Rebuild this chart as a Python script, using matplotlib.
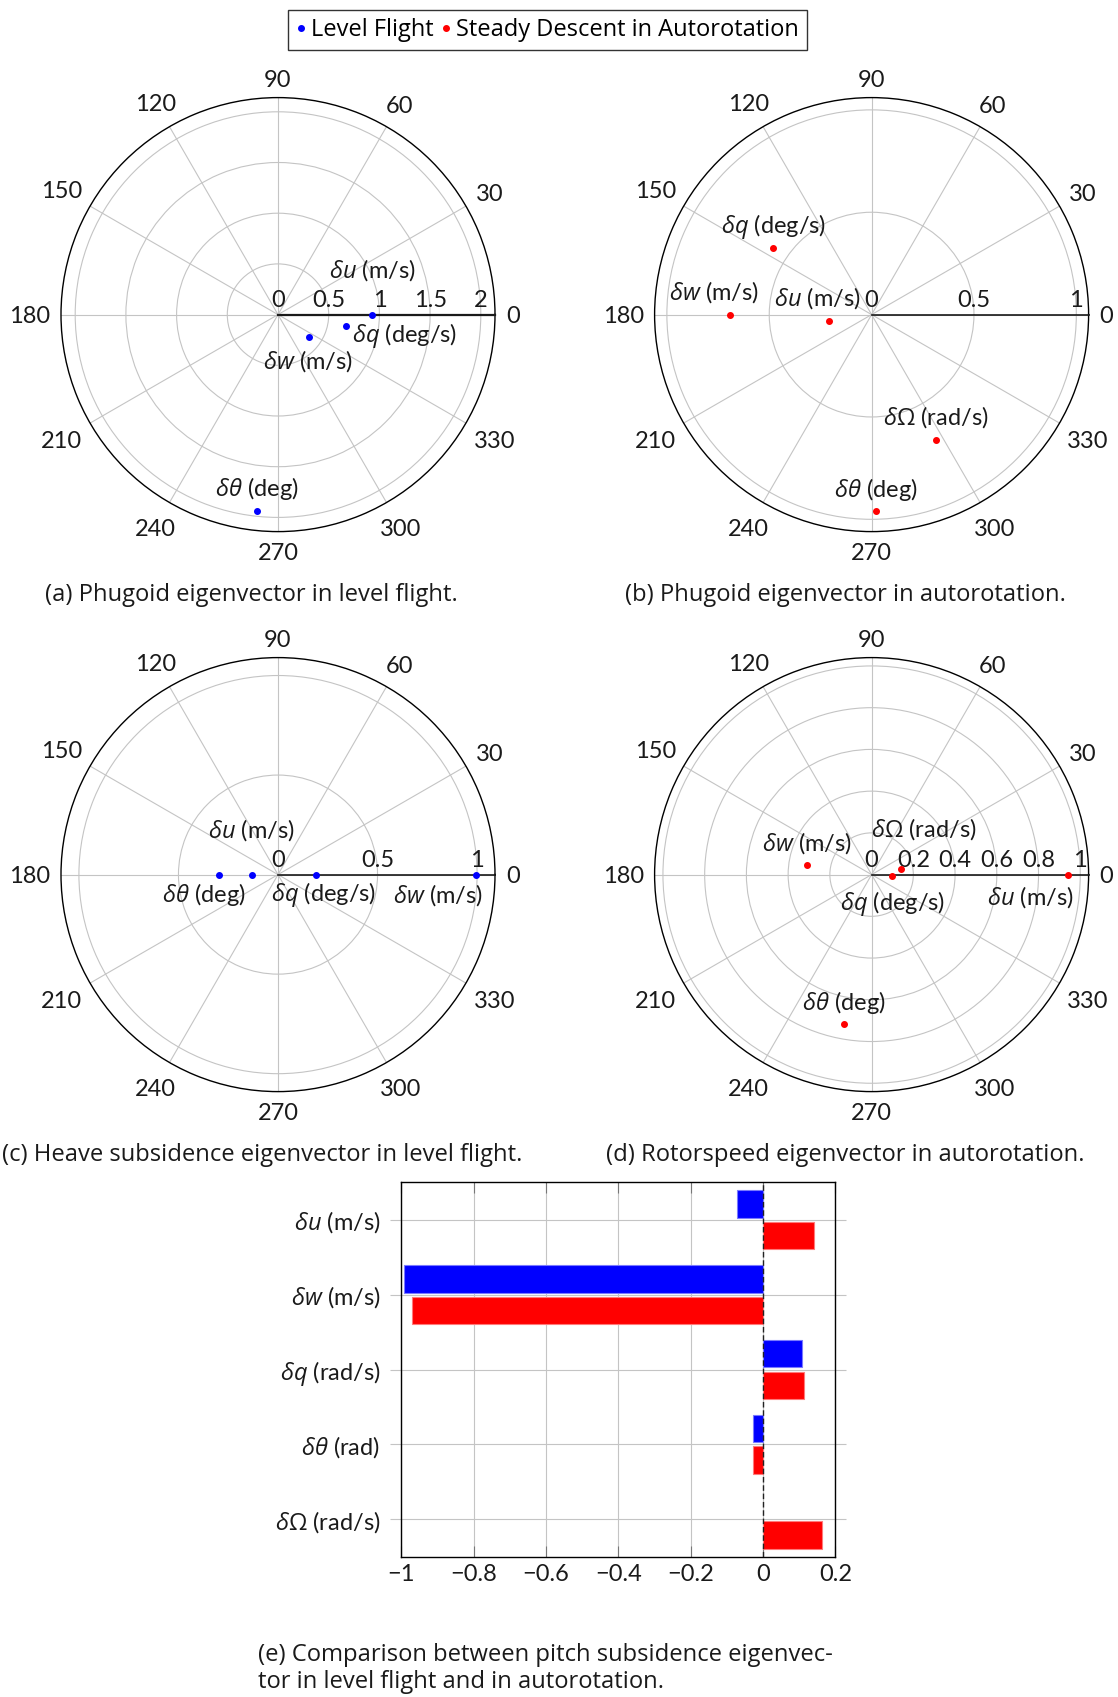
import numpy as np
import matplotlib
matplotlib.use('Agg')
import matplotlib.pyplot as plt
from matplotlib.lines import Line2D

plt.rcParams['font.family'] = ['Lato', 'DejaVu Sans']
plt.rcParams['mathtext.fontset'] = 'custom'
plt.rcParams['mathtext.it'] = 'Open Sans:italic'
plt.rcParams['mathtext.rm'] = 'Open Sans'

# --- data ---
# (a) phugoid eigenvector, level flight
a_names = [r'$\delta u$ (m/s)', r'$\delta q$ (deg/s)', r'$\delta w$ (m/s)', r'$\delta\theta$ (deg)']
a_mag = [0.93, 0.678, 0.378, 1.944]
a_phase = [0.0, 350.4, 324.1, 263.9]

# (b) phugoid eigenvector, autorotation
b_names = [r'$\delta w$ (m/s)', r'$\delta u$ (m/s)', r'$\delta q$ (deg/s)', r'$\delta\Omega$ (rad/s)', r'$\delta\theta$ (deg)']
b_mag = [0.694, 0.211, 0.579, 0.686, 0.960]
b_phase = [180.0, 188.1, 146.0, 297.1, 271.3]

# (c) heave subsidence eigenvector, level flight
c_names = [r'$\delta w$ (m/s)', r'$\delta q$ (deg/s)', r'$\delta u$ (m/s)', r'$\delta\theta$ (deg)']
c_mag = [0.993, 0.191, 0.133, 0.297]
c_phase = [0.0, 0.0, 180.0, 180.0]

# (d) rotorspeed eigenvector, autorotation
d_names = [r'$\delta u$ (m/s)', r'$\delta q$ (deg/s)', r'$\delta\Omega$ (rad/s)', r'$\delta w$ (m/s)', r'$\delta\theta$ (deg)']
d_mag = [0.942, 0.099, 0.143, 0.311, 0.730]
d_phase = [0.0, 357.0, 10.2, 171.8, 259.5]

# (e) pitch subsidence eigenvector comparison
bar_names = [r'$\delta u$ (m/s)', r'$\delta w$ (m/s)', r'$\delta q$ (rad/s)', r'$\delta\theta$ (rad)', r'$\delta\Omega$ (rad/s)']
bar_level = [-0.071, -0.993, 0.109, -0.028, np.nan]
bar_auto = [0.142, -0.971, 0.114, -0.028, 0.163]
bar_xticks = [-1, -0.8, -0.6, -0.4, -0.2, 0, 0.2]

# label offsets (pixels) for the point annotations
a_off = [(0, 44.6, 'center'), (6, -9, 'left'), (-1, -23.6, 'center'), (0, 22.1, 'center')]
b_off = [(-15.7, 22.5, 'center'), (-11.8, 22.5, 'center'), (0, 22.1, 'center'), (0, 22.1, 'center'), (0, 21.4, 'center')]
c_off = [(-37.5, -20.4, 'center'), (7.1, -20.4, 'center'), (0, 44.6, 'center'), (-15.4, -20.4, 'center')]
d_off = [(-37.9, -22.1, 'center'), (0, -27.5, 'center'), (22.9, 40.4, 'center'), (0, 22.1, 'center'), (0, 21.4, 'center')]

GRID = '#c4c4c4'
TXT = '#1a1a1a'
LBL = 17
TICK = 17
W, H = 1118, 1697
R_PX = 217

fig = plt.figure(figsize=(W / 100, H / 100), dpi=100)


def px_axes(cx, cy, r):
    return [(cx - r) / W, 1 - (cy + r) / H, 2 * r / W, 2 * r / H]


def polar_panel(cx, cy, names, mags, phases, color, rticks, rlabels, rmax, offsets, axis_lw):
    ax = fig.add_axes(px_axes(cx, cy, R_PX), projection='polar')
    ax.set_rlim(0, rmax)
    ax.set_rticks(rticks)
    ax.set_yticklabels([])
    thetas = np.arange(0, 360, 30)
    ax.set_xticks(np.deg2rad(thetas))
    ax.set_xticklabels([])
    ax.grid(True, color=GRID, lw=0.8)
    ax.tick_params(axis='x', direction='out', length=6, width=0.8, color=GRID)
    ax.spines['polar'].set_color('black')
    ax.spines['polar'].set_linewidth(1.0)
    ax.plot([0, 0], [0, rmax], color=TXT, lw=axis_lw, zorder=3, clip_on=False)

    # angle labels just outside the circle
    for t in thetas:
        lab = str(t)
        w, h = 13.5 * len(lab), 17
        a = np.deg2rad(t)
        d = 11 + abs(w / 2 * np.cos(a)) + abs(h / 2 * np.sin(a))
        ax.annotate(lab, xy=(a, rmax), xytext=(d * np.cos(a), d * np.sin(a)),
                    textcoords='offset pixels', ha='center', va='center_baseline',
                    fontsize=TICK, color=TXT, annotation_clip=False)
    # radial labels above the 0 deg axis
    for r, lab in zip(rticks, rlabels):
        ax.annotate(lab, xy=(0, r), xytext=(0, 7.5), textcoords='offset pixels',
                    ha='center', va='baseline', fontsize=TICK, color=TXT)

    th = np.deg2rad(phases)
    ax.plot(th, mags, 'o', color=color, ms=4, zorder=4, clip_on=False)
    for name, t, m, (dx, dy, ha) in zip(names, th, mags, offsets):
        ax.annotate(name, xy=(t, m), xytext=(dx, dy), textcoords='offset pixels',
                    ha=ha, va='center', fontsize=LBL, color=TXT)
    return ax


polar_panel(278, 314.6, a_names, a_mag, a_phase, 'blue',
            [0, 0.5, 1, 1.5, 2], ['0', '0.5', '1', '1.5', '2'], 2.14, a_off, 1.6)
polar_panel(871.6, 314.6, b_names, b_mag, b_phase, 'red',
            [0, 0.5, 1], ['0', '0.5', '1'], 1.06, b_off, 1.2)
polar_panel(278, 874.6, c_names, c_mag, c_phase, 'blue',
            [0, 0.5, 1], ['0', '0.5', '1'], 1.09, c_off, 1.2)
polar_panel(871.6, 874.6, d_names, d_mag, d_phase, 'red',
            [0, 0.2, 0.4, 0.6, 0.8, 1.0], ['0', '0.2', '0.4', '0.6', '0.8', '1'], 1.04, d_off, 1.2)

# --- bar chart (e) ---
axb = fig.add_axes([401.3 / W, 1 - 1556.7 / H, 434 / W, 374.4 / H])
y = np.arange(len(bar_names))
axb.barh(y - 0.21, bar_level, height=0.365, color='blue', edgecolor='#7a7aff', lw=0.8, zorder=2)
axb.barh(y + 0.21, bar_auto, height=0.365, color='red', edgecolor='#ff7a7a', lw=0.8, zorder=2)
axb.axvline(0, color='#222222', lw=1.0, ls=(0, (4, 2)), zorder=3)
axb.set_xlim(-1, 0.2)
axb.set_ylim(len(bar_names) - 0.5, -0.5)
axb.set_xticks(bar_xticks)
axb.set_xticklabels([f'{v:g}'.replace('-', '\u2212') for v in bar_xticks])
axb.set_yticks(y)
axb.set_yticklabels(bar_names)
axb.set_axisbelow(True)
axb.grid(True, color=GRID, lw=0.8)
axb.tick_params(axis='x', direction='in', top=True, length=8, width=0.8, color='#777777',
                pad=5, labelsize=17, labelcolor=TXT)
axb.tick_params(axis='y', direction='out', left=True, right=True, length=8, width=0.8,
                color=GRID, pad=7, labelsize=LBL, labelcolor=TXT)
for sp in axb.spines.values():
    sp.set_color('black')
    sp.set_linewidth(1.0)

# --- legend ---
handles = [Line2D([], [], ls='', marker='o', color='blue', ms=4, label='Level Flight'),
           Line2D([], [], ls='', marker='o', color='red', ms=4, label='Steady Descent in Autorotation')]
leg = fig.legend(handles=handles, loc='center', bbox_to_anchor=(547.5 / W, 1 - 30 / H), ncol=2,
                 prop={'family': 'Open Sans', 'size': 17}, frameon=True, fancybox=False,
                 edgecolor='black', handlelength=0.4, handletextpad=0.25, columnspacing=0.3,
                 borderpad=0.35)
leg.get_frame().set_linewidth(1.0)

# --- captions ---
cap = dict(family='Open Sans', fontsize=17.1, color=TXT, va='center')
fig.text(251.2 / W, 1 - 594.6 / H, '(a) Phugoid eigenvector in level flight.', ha='center', **cap)
fig.text(845 / W, 1 - 594.6 / H, '(b) Phugoid eigenvector in autorotation.', ha='center', **cap)
fig.text(2 / W, 1 - 1154.6 / H, '(c) Heave subsidence eigenvector in level flight.', ha='left', **cap)
fig.text(845.2 / W, 1 - 1154.6 / H, '(d) Rotorspeed eigenvector in autorotation.', ha='center', **cap)
fig.text(258.3 / W, 1 - 1655 / H, '(e) Comparison between pitch subsidence eigenvec-', ha='left', **cap)
fig.text(258.3 / W, 1 - 1681.7 / H, 'tor in level flight and in autorotation.', ha='left', **cap)

fig.savefig('out.png', dpi=100)
